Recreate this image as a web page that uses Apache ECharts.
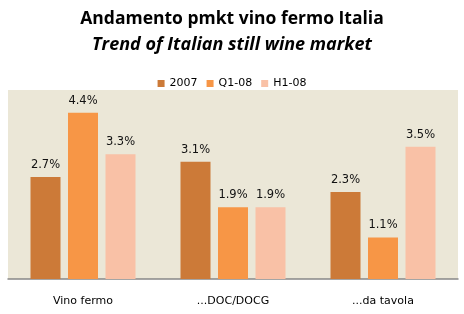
<!DOCTYPE html>
<html>
<head>
<meta charset="utf-8">
<script src="https://cdn.jsdelivr.net/npm/echarts@6/dist/echarts.min.js"></script>
<style>html,body{margin:0;padding:0;background:#fff}#c{width:464px;height:314px}</style>
</head>
<body>
<div id="c"></div>
<script>
var categories = ['Vino fermo', '...DOC/DOCG', '...da tavola'];
var seriesNames = ['2007', 'Q1-08', 'H1-08'];
var values2007 = [2.7, 3.1, 2.3];
var valuesQ108 = [4.4, 1.9, 1.1];
var valuesH108 = [3.3, 1.9, 3.5];
var colors = ['#CC7A38', '#F79646', '#F9C1A6'];

var chart = echarts.init(document.getElementById('c'));
var lbl = {
  show: true, position: 'top', distance: 6,
  fontFamily: 'DejaVu Sans', fontSize: 11.5, color: '#111',
  formatter: function (p) { return p.value.toFixed(1) + '%'; }
};
var data = [values2007, valuesQ108, valuesH108];
chart.setOption({
  animation: false,
  title: [{
    text: 'Andamento pmkt vino fermo Italia',
    left: 'center', top: 5,
    textStyle: { fontFamily: 'Open Sans', fontWeight: 'bold', fontSize: 17.5, color: '#000' }
  }, {
    text: 'Trend of Italian still wine market',
    left: 'center', top: 31,
    textStyle: { fontFamily: 'Open Sans', fontWeight: 'bold', fontStyle: 'italic', fontSize: 18, color: '#000' }
  }],
  legend: {
    top: 73, left: 'center',
    itemWidth: 7, itemHeight: 7, itemGap: 9,
    icon: 'rect',
    textStyle: { fontFamily: 'DejaVu Sans', fontSize: 11, color: '#000' },
    data: seriesNames
  },
  grid: { left: 8, right: 6, top: 90, bottom: 35, backgroundColor: '#EBE7D7', show: true, borderWidth: 0 },
  xAxis: {
    type: 'category', data: categories,
    axisLine: { lineStyle: { color: '#888', width: 1.5 } },
    axisTick: { show: false },
    axisLabel: { margin: 17, fontFamily: 'DejaVu Sans', fontSize: 11, color: '#000' }
  },
  yAxis: { type: 'value', min: 0, max: 5, show: false, splitLine: { show: false } },
  series: seriesNames.map(function (n, i) {
    return {
      name: n, type: 'bar', data: data[i],
      itemStyle: { color: colors[i] },
      barGap: '25%', barCategoryGap: '30%',
      label: lbl
    };
  })
});
</script>
</body>
</html>
